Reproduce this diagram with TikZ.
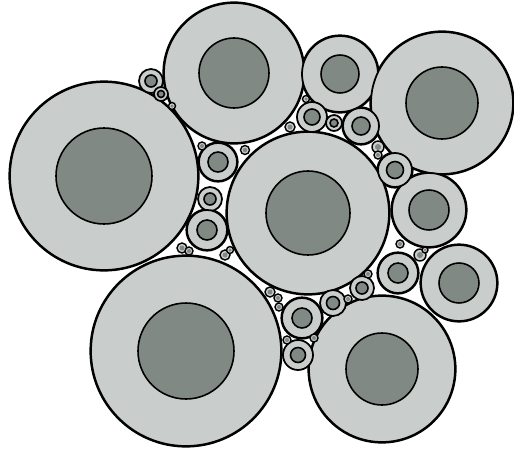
\documentclass[tikz,border=0pt]{standalone}
\usepackage{tikz}

\definecolor{ringgray}{RGB}{201,205,204}
\definecolor{coregray}{RGB}{128,137,131}

\begin{document}
\begin{tikzpicture}[
  x=0.02cm, y=0.02cm,
  shell/.style = {draw=black, fill=ringgray, line width=1pt},
  core/.style  = {draw=black, fill=coregray, line width=0.9pt},
  tiny/.style  = {draw=black, fill=ringgray, line width=0.8pt},
]
\useasboundingbox (0,0) rectangle (514,-450);

% ----------------------------- dark halo under the cells ------------------
\foreach \cx/\cy/\R in {104/176/94, 234/73/70, 340/74/38, 442/103/71,
    308/213/81, 429/210/37, 459/283/38, 186/351/95, 382/369/73,
    218/162/19, 207/230/20, 361/126/18, 395/170/17, 398/273/20,
    302/318/20}{
  \fill[black] (\cx,-\cy) circle (\R+1.6);
}

% ----------------------------- large cells --------------------------------
\foreach \cx/\cy/\R/\r in {104/176/94/48, 234/73/70/35, 340/74/38/19,
    442/103/71/36, 308/213/81/42, 429/210/37/20, 459/283/38/20,
    186/351/95/48, 382/369/73/36}{
  \draw[shell] (\cx,-\cy) circle (\R);
  \draw[core]  (\cx,-\cy) circle (\r);
}

% ----------------------------- medium cells -------------------------------
\foreach \cx/\cy/\R/\r in {151/81/12/6, 161/94/7/3.5, 218/162/19/10,
    210/199/12/6, 207/230/20/10, 312/117/15/8, 334/123/8/4,
    361/126/18/9, 395/170/17/8.5, 398/273/20/10, 362/288/12/6,
    333/303/13/6.5, 302/318/20/10, 298/355/15/7.5}{
  \draw[shell] (\cx,-\cy) circle (\R);
  \draw[core]  (\cx,-\cy) circle (\r);
}

% ----------------------------- tiny cells in the gaps ---------------------
\foreach \cx/\cy/\R in {182/248/5, 189/251/4, 225/255/5, 230/250/3.5,
    202/146/4, 245/150/4.5, 270/292/5, 278/298/4, 279/307/4,
    287/340/4, 314/338/4, 348/299/4, 368/274/4, 378/147/6, 378/155/4,
    400/244/4, 420/255/6, 425/250/3, 290/127/5, 306/99/3.5, 172/106/3.5}{
  \draw[tiny] (\cx,-\cy) circle (\R);
  \fill[coregray] (\cx,-\cy) circle (\R/2);
}

\end{tikzpicture}
\end{document}
